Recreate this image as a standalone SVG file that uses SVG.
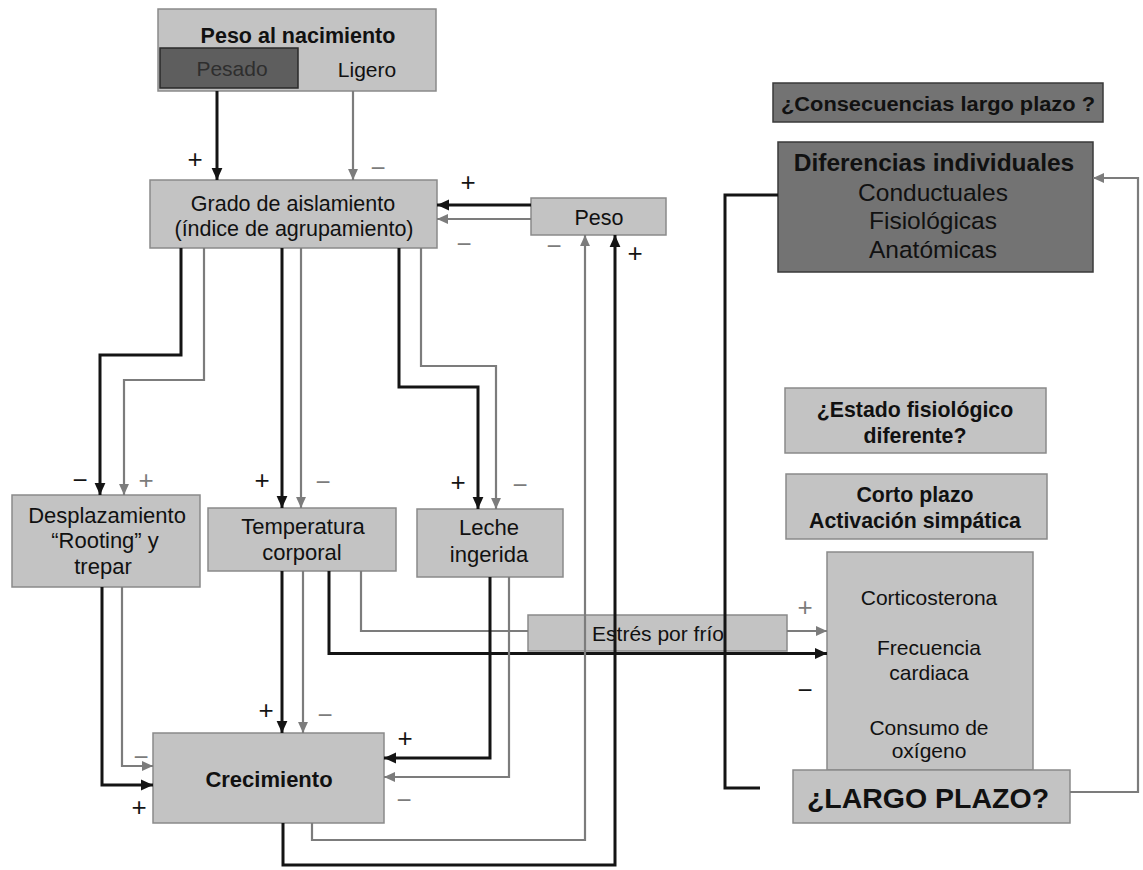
<svg xmlns="http://www.w3.org/2000/svg" width="1143" height="870" viewBox="0 0 1143 870">
<defs>
<style>
.lb{fill:#c3c3c3;stroke:#8a8a8a;stroke-width:1.5}
.db{fill:#737373;stroke:#3a3a3a;stroke-width:1.5}
text{font-family:"Liberation Sans",Arial,sans-serif;fill:#111;text-anchor:middle}
.b{font-weight:bold}
.t{font-size:21.5px}
.k{fill:none;stroke:#141414;stroke-width:3}
.g{fill:none;stroke:#7c7c7c;stroke-width:2.2}
.ka{marker-end:url(#ak)}
.ga{marker-end:url(#ag)}
.sp{font-size:26px}
.sk{fill:#141414}
.sg{fill:#7c7c7c}
</style>
<marker id="ak" viewBox="0 0 10 10" refX="10" refY="5" markerWidth="12" markerHeight="12" markerUnits="userSpaceOnUse" orient="auto"><path d="M0,0.5 L10,5 L0,9.5 z" fill="#141414"/></marker>
<marker id="ag" viewBox="0 0 10 10" refX="10" refY="5" markerWidth="11" markerHeight="11" markerUnits="userSpaceOnUse" orient="auto"><path d="M0,0.5 L10,5 L0,9.5 z" fill="#7c7c7c"/></marker>
</defs>
<rect width="1143" height="870" fill="#ffffff"/>

<g id="peso-nacimiento">
<rect class="lb" x="158" y="9" width="278" height="82"/>
<rect x="160" y="48" width="138" height="40" fill="#5e5e5e" stroke="#2a2a2a" stroke-width="1.5"/>
<text class="b" x="298" y="43" font-size="21.5">Peso al nacimiento</text>
<text x="232" y="76" font-size="21" style="fill:#2e2e2e">Pesado</text>
<text x="367" y="77" font-size="21">Ligero</text>
</g>

<g id="grado">
<rect class="lb" x="150" y="180" width="287" height="68"/>
<text class="t" x="293" y="211">Grado de aislamiento</text>
<text class="t" x="294" y="236">(índice de agrupamiento)</text>
</g>

<g id="peso">
<rect class="lb" x="531" y="198" width="135" height="37"/>
<text class="t" x="599" y="225">Peso</text>
</g>

<g id="desplazamiento">
<rect class="lb" x="12" y="495" width="188" height="92"/>
<text x="107" y="523" font-size="22">Desplazamiento</text>
<text x="105" y="548" font-size="22">“Rooting” y</text>
<text x="103" y="574" font-size="22">trepar</text>
</g>

<g id="temperatura">
<rect class="lb" x="208" y="508" width="188" height="63"/>
<text x="303" y="534" font-size="22">Temperatura</text>
<text x="302" y="560" font-size="22">corporal</text>
</g>

<g id="leche">
<rect class="lb" x="417" y="509" width="146" height="68"/>
<text x="489" y="535" font-size="22">Leche</text>
<text x="489" y="562" font-size="22">ingerida</text>
</g>

<g id="estres">
<rect class="lb" x="528" y="615" width="259" height="36"/>
<text x="658" y="641" font-size="21">Estrés por frío</text>
</g>

<g id="crecimiento">
<rect class="lb" x="153" y="733" width="231" height="90"/>
<text class="b" x="269" y="787" font-size="22">Crecimiento</text>
</g>

<g id="consecuencias">
<rect class="db" x="773" y="83" width="330" height="39"/>
<text class="b" x="938" y="111" font-size="20" textLength="314" lengthAdjust="spacingAndGlyphs">¿Consecuencias largo plazo ?</text>
</g>

<g id="diferencias">
<rect class="db" x="778" y="142" width="315" height="130"/>
<text class="b" x="934" y="171" font-size="24.5">Diferencias individuales</text>
<text x="933" y="201" font-size="24.5">Conductuales</text>
<text x="933" y="229" font-size="24.5">Fisiológicas</text>
<text x="933" y="258" font-size="24.5">Anatómicas</text>
</g>

<g id="estado">
<rect class="lb" x="785" y="388" width="261" height="65"/>
<text class="b" x="915" y="417" font-size="21.3">¿Estado fisiológico</text>
<text class="b" x="915" y="443" font-size="21.3">diferente?</text>
</g>

<g id="corto-plazo">
<rect class="lb" x="786" y="474" width="261" height="65"/>
<text class="b" x="915" y="502" font-size="21.3">Corto plazo</text>
<text class="b" x="915" y="528" font-size="21.3">Activación simpática</text>
</g>

<g id="respuestas">
<rect class="lb" x="827" y="552" width="206" height="218"/>
<text x="929" y="605" font-size="21">Corticosterona</text>
<text x="929" y="655" font-size="21">Frecuencia</text>
<text x="929" y="680" font-size="21">cardiaca</text>
<text x="929" y="735" font-size="21">Consumo de</text>
<text x="929" y="758" font-size="21">oxígeno</text>
</g>

<g id="largo-plazo">
<rect class="lb" x="793" y="770" width="277" height="53"/>
<text class="b" x="928" y="808" font-size="28.5">¿LARGO PLAZO?</text>
</g>

<g id="connectors">
<path class="k ka" d="M217,91 V180"/>
<path class="g ga" d="M353,91 V180"/>
<path class="k ka" d="M531,205 H437"/>
<path class="g ga" d="M531,219 H437"/>
<path class="k ka" d="M181,248 V355 H100 V495"/>
<path class="g ga" d="M204,248 V380 H124 V495"/>
<path class="k ka" d="M282,248 V508"/>
<path class="g ga" d="M301,248 V508"/>
<path class="k ka" d="M399,248 V387 H478 V509"/>
<path class="g ga" d="M421,248 V366 H496 V509"/>
<path class="k ka" d="M102,587 V785 H153"/>
<path class="g ga" d="M122,587 V766 H153"/>
<path class="k ka" d="M282,571 V733"/>
<path class="g ga" d="M303,571 V733"/>
<path class="k ka" d="M329,571 V653.5 H827"/>
<path class="g" d="M361,571 V631 H528"/>
<path class="g ga" d="M787,631 H827"/>
<path class="k ka" d="M490,577 V758 H384"/>
<path class="g ga" d="M509,577 V777 H384"/>
<path class="g ga" d="M312,823 V840 H585 V235"/>
<path class="k ka" d="M283,823 V865 H615 V235"/>
<path class="k" d="M778,195 H725 V788 H760"/>
<path class="g ga" d="M1070,792 H1138 V178 H1093"/>
</g>

<g id="signs">
<text class="sp sk" x="195" y="168">+</text>
<text class="sp sg" x="378" y="177">−</text>
<text class="sp sk" x="468" y="191">+</text>
<text class="sp sg" x="464" y="253">−</text>
<text class="sp sg" x="554" y="255">−</text>
<text class="sp sk" x="635" y="262">+</text>
<text class="sp sk" x="80" y="489">−</text>
<text class="sp sg" x="146" y="489">+</text>
<text class="sp sk" x="262" y="489">+</text>
<text class="sp sg" x="323" y="491">−</text>
<text class="sp sk" x="458" y="491">+</text>
<text class="sp sg" x="520" y="494">−</text>
<text class="sp sk" x="266" y="719">+</text>
<text class="sp sg" x="325" y="724">−</text>
<text class="sp sg" x="141" y="766">−</text>
<text class="sp sk" x="139" y="816">+</text>
<text class="sp sk" x="405" y="747">+</text>
<text class="sp sg" x="404" y="809">−</text>
<text class="sp sg" x="805" y="616">+</text>
<text class="sp sk" x="805" y="699">−</text>
</g>
</svg>
